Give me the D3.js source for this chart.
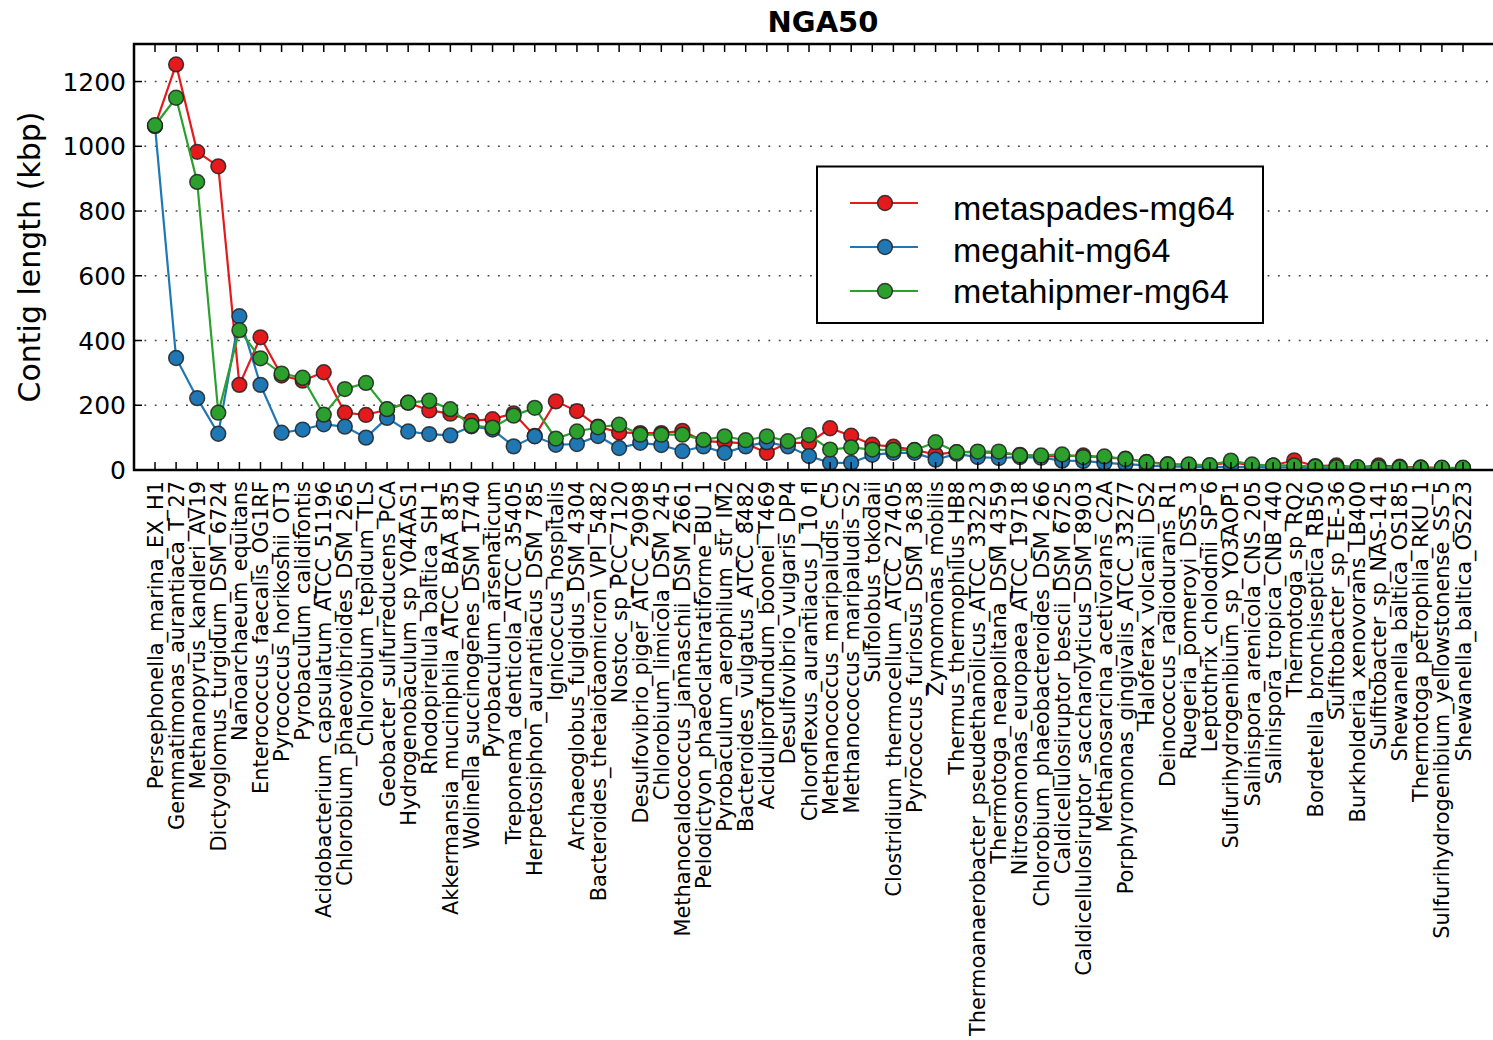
<!DOCTYPE html>
<html>
<head>
<meta charset="utf-8">
<script src="https://cdn.jsdelivr.net/npm/d3@7"></script>
<style>
  html, body { margin: 0; padding: 0; background: #fff; }
  svg { display: block; }
</style>
</head>
<body>
<svg id="chart" width="1493" height="1040"></svg>
<script>
const categories = [
  "Persephonella_marina_EX_H1", "Gemmatimonas_aurantiaca_T_27", "Methanopyrus_kandleri_AV19",
  "Dictyoglomus_turgidum_DSM_6724", "Nanoarchaeum_equitans", "Enterococcus_faecalis_OG1RF",
  "Pyrococcus_horikoshii_OT3", "Pyrobaculum_calidifontis", "Acidobacterium_capsulatum_ATCC_51196",
  "Chlorobium_phaeovibrioides_DSM_265", "Chlorobium_tepidum_TLS", "Geobacter_sulfurreducens_PCA",
  "Hydrogenobaculum_sp_Y04AAS1", "Rhodopirellula_baltica_SH_1", "Akkermansia_muciniphila_ATCC_BAA_835",
  "Wolinella_succinogenes_DSM_1740", "Pyrobaculum_arsenaticum", "Treponema_denticola_ATCC_35405",
  "Herpetosiphon_aurantiacus_DSM_785", "Ignicoccus_hospitalis", "Archaeoglobus_fulgidus_DSM_4304",
  "Bacteroides_thetaiotaomicron_VPI_5482", "Nostoc_sp_PCC_7120", "Desulfovibrio_piger_ATCC_29098",
  "Chlorobium_limicola_DSM_245", "Methanocaldococcus_jannaschii_DSM_2661", "Pelodictyon_phaeoclathratiforme_BU_1",
  "Pyrobaculum_aerophilum_str_IM2", "Bacteroides_vulgatus_ATCC_8482", "Aciduliprofundum_boonei_T469",
  "Desulfovibrio_vulgaris_DP4", "Chloroflexus_aurantiacus_J_10_fl", "Methanococcus_maripaludis_C5",
  "Methanococcus_maripaludis_S2", "Sulfolobus_tokodaii", "Clostridium_thermocellum_ATCC_27405",
  "Pyrococcus_furiosus_DSM_3638", "Zymomonas_mobilis", "Thermus_thermophilus_HB8",
  "Thermoanaerobacter_pseudethanolicus_ATCC_33223", "Thermotoga_neapolitana_DSM_4359", "Nitrosomonas_europaea_ATCC_19718",
  "Chlorobium_phaeobacteroides_DSM_266", "Caldicellulosiruptor_bescii_DSM_6725", "Caldicellulosiruptor_saccharolyticus_DSM_8903",
  "Methanosarcina_acetivorans_C2A", "Porphyromonas_gingivalis_ATCC_33277", "Haloferax_volcanii_DS2",
  "Deinococcus_radiodurans_R1", "Ruegeria_pomeroyi_DSS_3", "Leptothrix_cholodnii_SP_6",
  "Sulfurihydrogenibium_sp_YO3AOP1", "Salinispora_arenicola_CNS_205", "Salinispora_tropica_CNB_440",
  "Thermotoga_sp_RQ2", "Bordetella_bronchiseptica_RB50", "Sulfitobacter_sp_EE-36",
  "Burkholderia_xenovorans_LB400", "Sulfitobacter_sp_NAS-141", "Shewanella_baltica_OS185",
  "Thermotoga_petrophila_RKU_1", "Sulfurihydrogenibium_yellowstonense_SS_5", "Shewanella_baltica_OS223"
];

const seriesNames = ["metaspades-mg64", "megahit-mg64", "metahipmer-mg64"];
const seriesColors = ["#e41a1c", "#1f77b4", "#2ca02c"];

const metaspades = [
  1063, 1253, 983, 938, 263, 410, 292, 276, 302, 177,
  170, 187, 208, 184, 174, 152, 157, 175, 105, 212,
  182, 134, 116, 114, 114, 121, 89, 86, 82, 53,
  84, 84, 129, 106, 78, 72, 62, 48, 55, 55,
  52, 47, 43, 42, 45, 38, 35, 25, 18, 16,
  14, 24, 14, 14, 30, 12, 14, 8, 14, 10,
  8, 6, 6
];
const megahit = [
  1063, 346, 222, 112, 475, 263, 115, 125, 141, 134,
  100, 161, 119, 111, 107, 135, 125, 73, 104, 78,
  80, 105, 68, 84, 77, 58, 73, 53, 73, 86,
  73, 43, 22, 22, 47, 53, 53, 32, 50, 40,
  37, 40, 38, 29, 28, 22, 18, 14, 10, 10,
  9, 10, 9, 8, 8, 6, 6, 5, 5, 5,
  5, 5, 5
];
const metahipmer = [
  1065, 1150, 890, 177, 432, 345, 298, 285, 171, 250,
  269, 188, 208, 214, 188, 137, 131, 168, 192, 97,
  119, 132, 140, 109, 109, 109, 93, 104, 92, 104,
  89, 108, 63, 70, 63, 62, 61, 86, 55, 57,
  57, 45, 45, 48, 40, 42, 34, 24, 17, 17,
  15, 29, 17, 14, 14, 10, 9, 9, 9, 8,
  7, 7, 7
];
const series = [metaspades, megahit, metahipmer];
const yTicks = [0, 200, 400, 600, 800, 1000, 1200];

const svg = d3.select("#chart");
const L = 134, R = 1512, T = 44, B = 470;

const x = d3.scalePoint().domain(categories).range([155, 1463]);
const y = d3.scaleLinear().domain([0, 1316]).range([B, T]);

// clip
svg.append("defs").append("clipPath").attr("id", "plotclip")
  .append("rect").attr("x", L).attr("y", T).attr("width", R - L).attr("height", B - T);

// gridlines (dotted)
svg.append("g").selectAll("line").data(yTicks.filter(d => d > 0)).join("line")
  .attr("x1", L).attr("x2", R)
  .attr("y1", d => y(d)).attr("y2", d => y(d))
  .attr("stroke", "#444").attr("stroke-width", 1.6)
  .attr("stroke-dasharray", "1.8,8.6");

// data
const plot = svg.append("g").attr("clip-path", "url(#plotclip)");
series.forEach((vals, si) => {
  const pts = vals.map((v, i) => [x(categories[i]), y(v)]);
  plot.append("path")
    .attr("d", d3.line()(pts))
    .attr("fill", "none")
    .attr("stroke", seriesColors[si])
    .attr("stroke-width", 2.2);
  plot.append("g").selectAll("circle").data(vals).join("circle")
    .attr("cx", (d, i) => x(categories[i]))
    .attr("cy", d => y(d))
    .attr("r", 7.4)
    .attr("fill", seriesColors[si])
    .attr("stroke", "#222")
    .attr("stroke-opacity", 0.85)
    .attr("stroke-width", 1.5);
});

// ticks (inward)
const tk = svg.append("g").attr("stroke", "#000").attr("stroke-width", 1.5);
categories.forEach(c => {
  tk.append("line").attr("x1", x(c)).attr("x2", x(c)).attr("y1", B).attr("y2", B - 8);
  tk.append("line").attr("x1", x(c)).attr("x2", x(c)).attr("y1", T).attr("y2", T + 8);
});
yTicks.forEach(v => {
  tk.append("line").attr("x1", L).attr("x2", L + 8).attr("y1", y(v)).attr("y2", y(v));
});

// frame
svg.append("rect").attr("x", L).attr("y", T).attr("width", R - L).attr("height", B - T)
  .attr("fill", "none").attr("stroke", "#000").attr("stroke-width", 2.5);

// y tick labels
svg.append("g").selectAll("text").data(yTicks).join("text")
  .attr("x", L - 8).attr("y", d => y(d))
  .attr("dy", "0.36em")
  .attr("text-anchor", "end")
  .attr("font-family", "DejaVu Sans")
  .attr("font-size", 25)
  .attr("fill", "#000")
  .text(d => d);

// x tick labels
svg.append("g").selectAll("text").data(categories).join("text")
  .attr("transform", d => `translate(${x(d)},${B + 11}) rotate(-90)`)
  .attr("dy", "0.36em")
  .attr("text-anchor", "end")
  .attr("font-family", "DejaVu Sans")
  .attr("font-size", 20.9)
  .attr("fill", "#000")
  .text(d => d);

// y label
svg.append("text")
  .attr("transform", `translate(29,${(T + B) / 2}) rotate(-90)`)
  .attr("dy", "0.36em")
  .attr("text-anchor", "middle")
  .attr("font-family", "DejaVu Sans")
  .attr("font-size", 30)
  .attr("fill", "#000")
  .text("Contig length (kbp)");

// title
svg.append("text")
  .attr("x", 823).attr("y", 32)
  .attr("text-anchor", "middle")
  .attr("font-family", "DejaVu Sans")
  .attr("font-weight", "bold")
  .attr("font-size", 29)
  .attr("fill", "#000")
  .text("NGA50");

// legend
const lg = svg.append("g");
lg.append("rect").attr("x", 817).attr("y", 166.5).attr("width", 446).attr("height", 156.5)
  .attr("fill", "#fff").attr("stroke", "#000").attr("stroke-width", 2);
seriesNames.forEach((name, si) => {
  const ry = 203 + si * 44;
  const ty = 220 + si * 41.7;
  lg.append("line").attr("x1", 850).attr("x2", 918).attr("y1", ry).attr("y2", ry)
    .attr("stroke", seriesColors[si]).attr("stroke-width", 2.2);
  lg.append("circle").attr("cx", 885).attr("cy", ry).attr("r", 7.4)
    .attr("fill", seriesColors[si]).attr("stroke", "#222").attr("stroke-opacity", 0.85).attr("stroke-width", 1.5);
  lg.append("text").attr("x", 953).attr("y", ty)
    .attr("font-family", "Liberation Sans, Arial, sans-serif")
    .attr("font-size", 34)
    .attr("fill", "#000")
    .text(name);
});
</script>
</body>
</html>
